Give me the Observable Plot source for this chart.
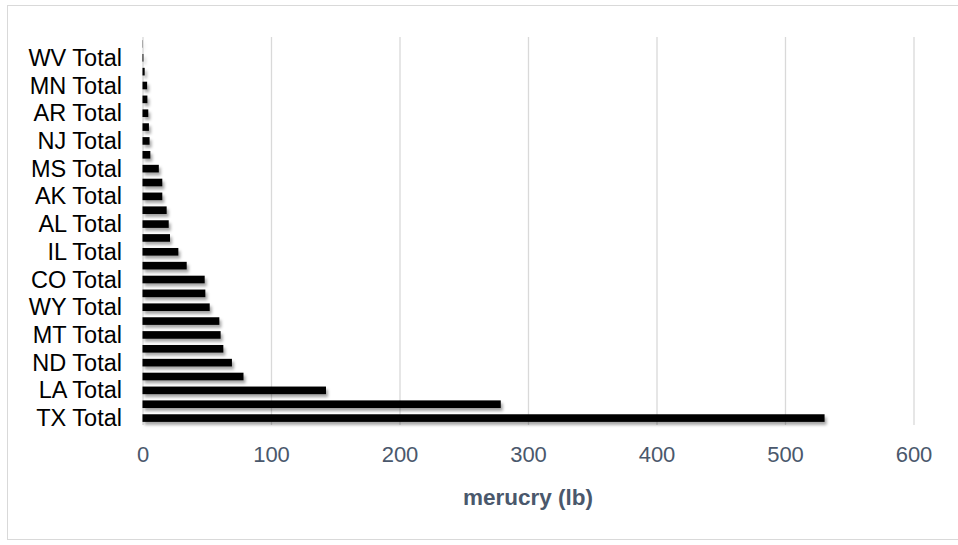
<!DOCTYPE html>
<html>
<head>
<meta charset="utf-8">
<script src="https://cdn.jsdelivr.net/npm/d3@7"></script>
<script src="https://cdn.jsdelivr.net/npm/@observablehq/plot@0.6"></script>
<style>
  html, body { margin: 0; padding: 0; background: #fff; }
  #wrap { position: relative; width: 958px; height: 545px; overflow: hidden; }
  #frame { position: absolute; left: 7px; top: 5px; width: 960px; height: 535px; border: 1px solid #D9D9D9; box-sizing: border-box; }
  #chart { position: absolute; left: 0; top: 0; }
</style>
</head>
<body>
<div id="wrap"><div id="frame"></div><div id="chart"></div></div>
<script>
// Categories listed top to bottom (only every other one is labelled in the original)
const categories = [
  "NY Total", "WV Total", "VA Total", "MN Total", "MI Total", "AR Total", "KS Total",
  "NJ Total", "CA Total", "MS Total", "NE Total", "AK Total", "OK Total", "AL Total",
  "KY Total", "IL Total", "UT Total", "CO Total", "NM Total", "WY Total", "OH Total",
  "MT Total", "PA Total", "ND Total", "IN Total", "LA Total", "FL Total", "TX Total"
];
const mercuryLb = [
  0.2, 0.7, 1.7, 3.6, 3.8, 4.5, 5.0,
  5.5, 6.1, 12.7, 15.4, 15.4, 18.8, 20.4,
  21.4, 27.9, 34.4, 48.4, 48.9, 52.3, 59.8,
  60.8, 62.9, 69.6, 78.6, 142.8, 278.8, 530.8
];
const labeledCategories = [
  "WV Total", "MN Total", "AR Total", "NJ Total", "MS Total", "AK Total", "AL Total",
  "IL Total", "CO Total", "WY Total", "MT Total", "ND Total", "LA Total", "TX Total"
];
const xTicks = [0, 100, 200, 300, 400, 500, 600];
const xTitle = "merucry (lb)";

const data = categories.map((c, i) => ({state: c, value: mercuryLb[i]}));

const chart = Plot.plot({
  width: 958,
  height: 545,
  marginLeft: 142.5,
  marginRight: 44.5,
  marginTop: 37,
  marginBottom: 120,
  style: {fontFamily: "'Liberation Sans', Arial, sans-serif", background: "transparent"},
  x: {domain: [0, 600]},
  y: {domain: categories, paddingInner: 0.45, paddingOuter: 0.225, round: false},
  marks: [
    Plot.gridX(xTicks, {stroke: "#D9D9D9", strokeOpacity: 1, strokeWidth: 1.3}),
    Plot.barX(data, {y: "state", x: "value", fill: "#000", className: "bars"}),
    Plot.axisY({ticks: labeledCategories, tickSize: 0, tickPadding: 21, fontSize: 23.5, fill: "#000", label: null}),
    Plot.axisX({ticks: xTicks, tickSize: 0, tickPadding: 21, fontSize: 22, fill: "#4A586C", label: null})
  ]
});

// axis title
const svg = d3.select(chart);
svg.append("text")
  .attr("x", (142.5 + 913.5) / 2)
  .attr("y", 505)
  .attr("text-anchor", "middle")
  .attr("font-size", 22.5)
  .attr("font-weight", "bold")
  .attr("fill", "#4A586C")
  .attr("font-family", "'Liberation Sans', Arial, sans-serif")
  .text(xTitle);

// drop shadow on bars
const defs = svg.insert("defs", ":first-child");
const f = defs.append("filter").attr("id", "barShadow").attr("x", "-5%").attr("y", "-50%").attr("width", "115%").attr("height", "250%");
f.append("feDropShadow").attr("dx", 2).attr("dy", 3).attr("stdDeviation", 1.8).attr("flood-color", "#000").attr("flood-opacity", 0.35);
svg.selectAll("g.bars").attr("filter", "url(#barShadow)");

document.getElementById("chart").appendChild(chart);
</script>
</body>
</html>
